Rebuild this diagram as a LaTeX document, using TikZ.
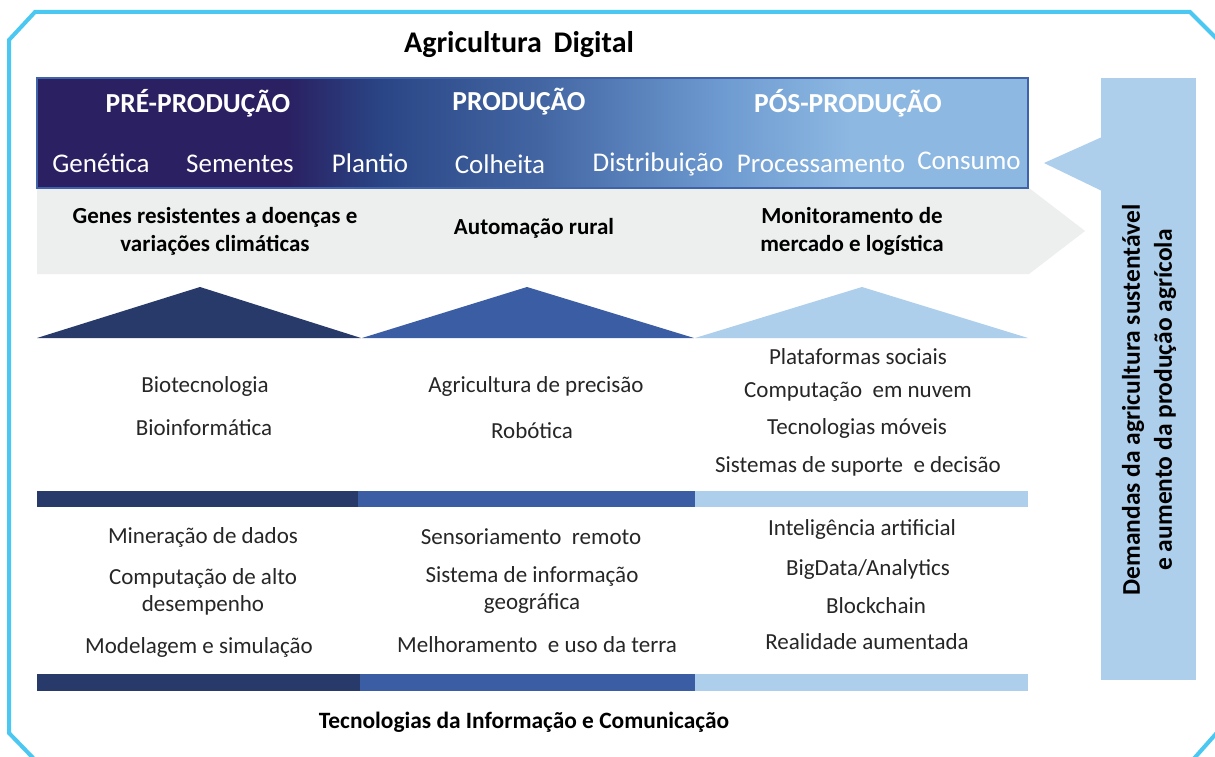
\documentclass[tikz,border=0pt]{standalone}
\usepackage{fontspec}
\setmainfont{Carlito}
\definecolor{framecol}{HTML}{4BC8F2}
\definecolor{navyA}{HTML}{2A2062}
\definecolor{blueC}{HTML}{2A4585}
\definecolor{blueD}{HTML}{4366A3}
\definecolor{blueE}{HTML}{6D9AD0}
\definecolor{blueF}{HTML}{8DB8E2}
\definecolor{boxline}{HTML}{4062A8}
\definecolor{grayband}{HTML}{EDEEEE}
\definecolor{darkcol}{HTML}{283A69}
\definecolor{midcol}{HTML}{3A5DA3}
\definecolor{lightcol}{HTML}{AECFEC}
\definecolor{txt}{HTML}{262626}
\begin{document}
\begin{tikzpicture}[x=1pt,y=-1pt,
  title/.style={font=\fontsize{30}{34}\selectfont\bfseries, text=black},
  phasehead/.style={font=\fontsize{27.5}{31}\selectfont\bfseries, text=white},
  phasestep/.style={font=\fontsize{27}{31}\selectfont, text=white},
  bandtxt/.style={font=\fontsize{23}{28}\selectfont\bfseries, text=black, align=center},
  bodytxt/.style={font=\fontsize{23}{27}\selectfont, text=txt, align=center},
  foot/.style={font=\fontsize{23.4}{26}\selectfont\bfseries, text=black},
  sidetxt/.style={font=\fontsize{25.5}{32}\selectfont\bfseries, text=black, align=center, rotate=90},
  inner sep=0pt, outer sep=0pt]
\useasboundingbox (0,0) rectangle (1215,757);
\fill[white] (0,0) rectangle (1215,757);
% frame
\begin{scope}
\clip (0,0) rectangle (1215,757);
\draw[framecol, line width=4pt, line join=miter]
  (35,12) -- (1190,12) -- (1222,44) -- (1222,727) -- (1190,763) -- (38,763) -- (9,733) -- (9,40) -- cycle;
\end{scope}
% title
\node[title] (ttl) at (519,45) {Agricultura\ \,Digital};
% gray arrow band
\fill[grayband] (37,188) -- (1029,188) -- (1085,231) -- (1029,274) -- (37,274) -- cycle;
% top gradient box
\fill[navyA] (37,78) rectangle (288,188);
\shade[left color=navyA, right color=blueC] (287,78) rectangle (381,188);
\shade[left color=blueC, right color=blueD] (380,78) rectangle (541,188);
\shade[left color=blueD, right color=blueE] (540,78) rectangle (721,188);
\shade[left color=blueE, right color=blueF] (720,78) rectangle (851,188);
\fill[blueF] (850,78) rectangle (1028,188);
\draw[boxline, line width=1.2pt] (37,78) rectangle (1028,188);
% phase headings
\node[phasehead] (pre) at (198,103) {PRÉ-PRODUÇÃO};
\node[phasehead] (pro) at (519,102) {PRODUÇÃO};
\node[phasehead] (pos) at (848,103) {PÓS-PRODUÇÃO};
% phase steps
\node[phasestep] (s1) at (101,163) {Genética};
\node[phasestep] (s2) at (240,164) {Sementes};
\node[phasestep] (s3) at (370,163) {Plantio};
\node[phasestep] (s4) at (500,164) {Colheita};
\node[phasestep] (s5) at (658,164) {Distribuição};
\node[phasestep] (s6) at (821,164) {Processamento};
\node[phasestep] (s7) at (969,161) {Consumo};
% band texts
\node[bandtxt] (b1) at (215,231) {Genes resistentes a doenças e\\variações climáticas};
\node[bandtxt] (b2) at (534,228) {Automação rural};
\node[bandtxt] (b3) at (852,231) {Monitoramento de\\mercado e logística};
% triangles
\fill[darkcol] (37,338) -- (200,287) -- (361,338) -- cycle;
\fill[midcol] (362,338) -- (527,287) -- (694,338) -- cycle;
\fill[lightcol] (695,338) -- (862,287) -- (1028,338) -- cycle;
% upper texts
\node[bodytxt] (u11) at (205,386) {Biotecnologia};
\node[bodytxt] (u12) at (204,428) {Bioinformática};
\node[bodytxt] (u21) at (536,386) {Agricultura de precisão};
\node[bodytxt] (u22) at (532,431) {Robótica};
\node[bodytxt] (u31) at (858,357) {Plataformas sociais};
\node[bodytxt] (u32) at (858,392) {Computação\ \ em nuvem};
\node[bodytxt] (u33) at (857,428) {Tecnologias móveis};
\node[bodytxt] (u34) at (858,466) {Sistemas de suporte\ \ e decisão};
% bar 1
\fill[darkcol] (37,491) rectangle (359,507);
\fill[midcol] (358,491) rectangle (696,507);
\fill[lightcol] (695,491) rectangle (1028,507);
% lower texts
\node[bodytxt] (l11) at (203,537) {Mineração de dados};
\node[bodytxt] (l12) at (203,592) {Computação de alto\\desempenho};
\node[bodytxt] (l13) at (199,647) {Modelagem e simulação};
\node[bodytxt] (l21) at (531,537) {Sensoriamento\ \ remoto};
\node[bodytxt] (l22) at (532,590) {Sistema de informação\\geográfica};
\node[bodytxt] (l23) at (537,645) {Melhoramento\ \ e uso da terra};
\node[bodytxt] (l31) at (862,529) {Inteligência artificial};
\node[bodytxt] (l32) at (868,569) {BigData/Analytics};
\node[bodytxt] (l33) at (876,606) {Blockchain};
\node[bodytxt] (l34) at (867,642) {Realidade aumentada};
% bar 2
\fill[darkcol] (37,674) rectangle (361,691);
\fill[midcol] (360,674) rectangle (696,691);
\fill[lightcol] (695,674) rectangle (1028,691);
% footer
\node[foot] (ft) at (524,722) {Tecnologias da Informação e Comunicação};
% demand box with arrow
\fill[lightcol] (1101,78) rectangle (1196,680);
\fill[lightcol] (1102,137) -- (1044,163) -- (1102,191) -- cycle;
\node[sidetxt] (dem) at (1149,400) {Demandas da agricultura sustentável\\e aumento da produção agrícola};
\end{tikzpicture}
\end{document}
